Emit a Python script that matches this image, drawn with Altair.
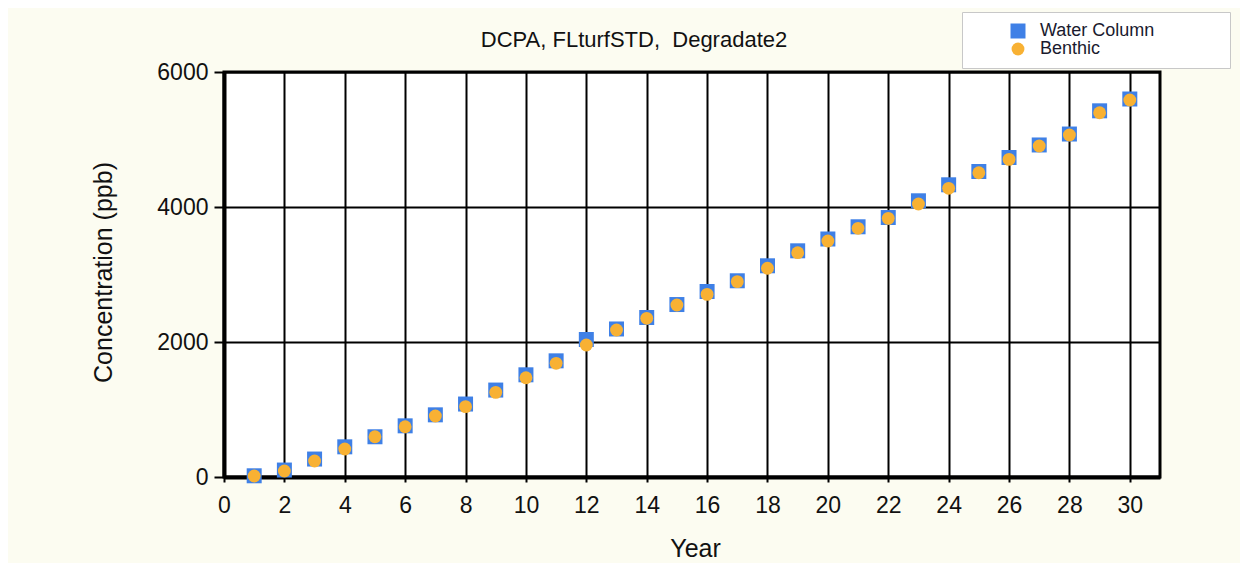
import altair as alt
import pandas as pd

years = [1, 2, 3, 4, 5, 6, 7, 8, 9, 10, 11, 12, 13, 14, 15,
         16, 17, 18, 19, 20, 21, 22, 23, 24, 25, 26, 27, 28, 29, 30]
water_column = [18, 103, 266, 447, 596, 758, 921, 1081, 1288, 1514,
                1721, 2037, 2193, 2363, 2555, 2748, 2907, 3129, 3351, 3526,
                3707, 3844, 4092, 4329, 4526, 4733, 4919, 5081, 5425, 5600]
benthic = [15, 89, 237, 415, 597, 745, 904, 1042, 1254, 1471,
           1684, 1956, 2178, 2351, 2548, 2706, 2894, 3092, 3323, 3496,
           3684, 3832, 4044, 4277, 4508, 4706, 4904, 5067, 5397, 5585]
series_names = ["Water Column", "Benthic"]
x_ticks = list(range(0, 31, 2))
y_ticks = [0, 2000, 4000, 6000]
title_text = "DCPA, FLturfSTD,\u00a0 Degradate2"

rows = []
for name, vals in zip(series_names, [water_column, benthic]):
    for yr, v in zip(years, vals):
        rows.append({"Year": yr, "Concentration": v, "Series": name})
df = pd.DataFrame(rows)

FONT = "Liberation Sans"
pad_str = "\u2800" * 5

chart = alt.Chart(df).mark_point(filled=True, opacity=1, clip=False).encode(
    x=alt.X("Year:Q",
            scale=alt.Scale(domain=[0, 31], nice=False, zero=False),
            axis=alt.Axis(values=x_ticks, title="Year", titleX=471, titleY=71,
                          titleBaseline="middle", tickSize=5, labelPadding=12,
                          labelFlush=False, format="d")),
    y=alt.Y("Concentration:Q",
            scale=alt.Scale(domain=[0, 6000], nice=False),
            axis=alt.Axis(values=y_ticks, title="Concentration (ppb)",
                          titleX=-121, titleY=200, titleBaseline="middle",
                          tickSize=10, labelPadding=6, format="d",
                          labelFlush=False)),
    color=alt.Color("Series:N",
                    scale=alt.Scale(domain=series_names, range=["#3f80e6", "#f8b133"]),
                    legend=alt.Legend(title=None, orient="none", legendX=738, legendY=-60,
                                      fillColor="white", strokeColor="#c8c8c8",
                                      padding=10, symbolOffset=37, labelOffset=13,
                                      rowPadding=0, labelFontSize=18, labelFont=FONT,
                                      labelColor="#1a1a2e", labelLimit=600,
                                      labelExpr="datum.label + '" + pad_str + "'")),
    shape=alt.Shape("Series:N",
                    scale=alt.Scale(domain=series_names, range=["square", "circle"])),
    size=alt.Size("Series:N",
                  scale=alt.Scale(domain=series_names, range=[225, 165])),
    order=alt.Order("order:Q"),
).transform_calculate(
    order="datum.Series == 'Water Column' ? 0 : 1"
).properties(
    width=936,
    height=405,
    title=alt.TitleParams(title_text, frame="group", anchor="middle", dx=-58,
                          dy=63, offset=23, fontSize=22, font=FONT, fontWeight="normal",
                          color="#111111"),
    autosize=alt.AutoSizeParams(type="none"),
    padding={"left": 216, "top": 64, "right": 80, "bottom": 86},
).configure(
    background="#fcfcf1",
).configure_view(
    fill="white", stroke="black", strokeWidth=3,
).configure_axis(
    grid=True, gridColor="black", gridWidth=2, gridOpacity=1,
    domainColor="black", domainWidth=4,
    tickColor="black", tickWidth=2,
    labelFont=FONT, labelFontSize=23, labelColor="#111111",
    titleFont=FONT, titleFontSize=25, titleFontWeight="normal", titleColor="#111111",
)

chart.save("out.html", embed_options={"renderer": "svg", "actions": False})
